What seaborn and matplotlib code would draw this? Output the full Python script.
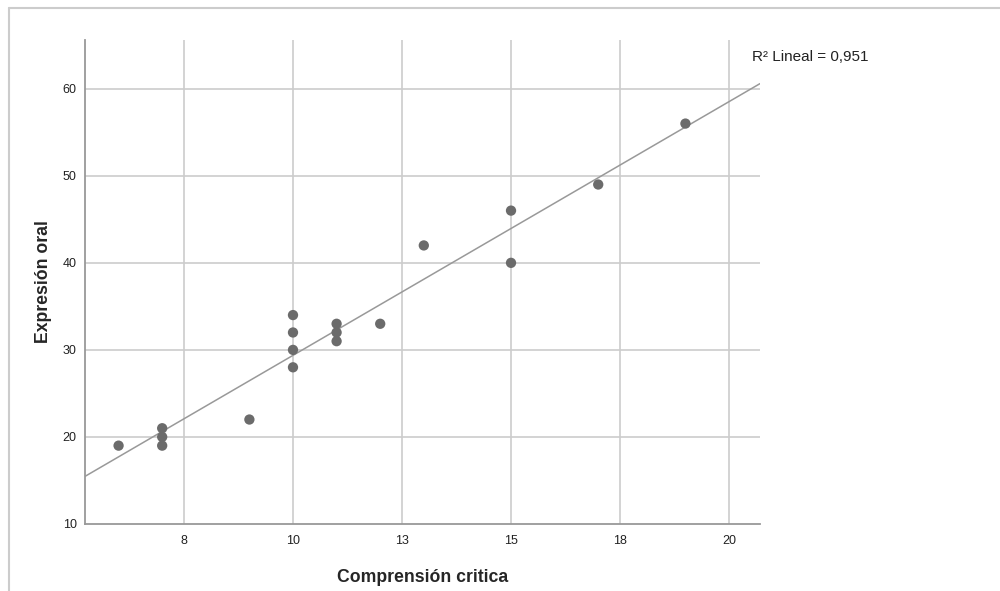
import matplotlib
matplotlib.use("Agg")
import matplotlib.pyplot as plt
from matplotlib.lines import Line2D
import pandas as pd
import seaborn as sns

# Comprensión crítica (x) vs Expresión oral (y)
comprension = [6, 7, 7, 7, 9, 10, 10, 10, 10, 11, 11, 11, 12, 13, 15, 15, 17, 19]
expresion = [19, 21, 20, 19, 22, 34, 32, 30, 28, 33, 32, 31, 33, 42, 46, 40, 49, 56]

x_ticks = [7.5, 10, 12.5, 15, 17.5, 20]
x_tick_labels = ["8", "10", "13", "15", "18", "20"]
y_ticks = [10, 20, 30, 40, 50, 60]
r2_label = "R\u00b2 Lineal = 0,951"

df = pd.DataFrame({"Comprensión critica": comprension, "Expresión oral": expresion})

sns.set_theme(style="white")
plt.rcParams["font.family"] = ["Liberation Sans", "DejaVu Sans"]

fig = plt.figure(figsize=(10, 5.91), dpi=100)
ax = fig.add_axes([0.085, 0.1134, 0.675, 0.8189])
ax.set_xlim(5.23, 20.71)
ax.set_ylim(10, 65.6)

for xt in x_ticks:
    ax.axvline(xt, color="#cccccc", lw=1.2, zorder=0)
for yt in y_ticks[1:]:
    ax.axhline(yt, color="#cccccc", lw=1.2, zorder=0)

sns.regplot(
    data=df, x="Comprensión critica", y="Expresión oral", ax=ax,
    ci=None, truncate=False,
    scatter_kws=dict(s=55, color="#6b6b6b", edgecolor="none", zorder=3, alpha=1),
    line_kws=dict(color="#999999", lw=1.1, zorder=2),
)
ax.set_xlim(5.23, 20.71)
ax.set_ylim(10, 65.6)

ax.set_xticks(x_ticks)
ax.set_xticklabels(x_tick_labels)
ax.set_yticks(y_ticks)
ax.tick_params(axis="both", length=0, labelsize=9, colors="#222222")
ax.tick_params(axis="x", pad=8)
ax.tick_params(axis="y", pad=6)

for side in ["top", "right"]:
    ax.spines[side].set_visible(False)
for side in ["left", "bottom"]:
    ax.spines[side].set_color("#999999")
    ax.spines[side].set_linewidth(1.3)

ax.set_xlabel("Comprensión critica", fontsize=12.7, fontweight="bold", labelpad=16)
ax.set_ylabel("Expresión oral", fontsize=12.7, fontweight="bold", labelpad=8)

fig.text(0.752, 1 - 57 / 591, r2_label, fontsize=11, color="#222222", va="center", ha="left")

# outer frame
fig.add_artist(Line2D([0.009, 1.0], [1 - 8 / 591, 1 - 8 / 591], color="#cccccc", lw=1.5))
fig.add_artist(Line2D([0.009, 0.009], [0.0, 1 - 8 / 591], color="#cccccc", lw=1.5))

fig.savefig("out.png", dpi=100)
